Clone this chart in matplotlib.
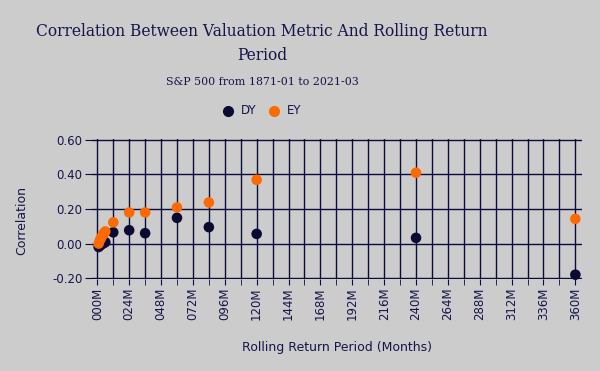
import matplotlib
matplotlib.use('Agg')
import matplotlib.pyplot as plt
from matplotlib.ticker import MultipleLocator, FuncFormatter

# rolling return period (months) and correlation of each valuation metric
months = [1, 2, 3, 4, 5, 6, 12, 24, 36, 60, 84, 120, 240, 360]
dy_corr = [-0.02, -0.012, -0.005, 0.0, 0.004, 0.008, 0.065, 0.077, 0.06, 0.149, 0.095, 0.056, 0.033, -0.18]
ey_corr = [0.0, 0.02, 0.035, 0.05, 0.06, 0.07, 0.123, 0.18, 0.18, 0.209, 0.238, 0.369, 0.41, 0.143]

bg = '#cccccc'
navy = '#0c0c3c'
text_col = '#15154a'
dy_col = '#0a0a33'
ey_col = '#ff6a00'

fig = plt.figure(figsize=(6, 3.71), dpi=100, facecolor=bg)
ax = fig.add_axes([92 / 600, 1 - 279 / 371, 490 / 600, 140 / 371])
ax.set_facecolor(bg)

ax.scatter(months, dy_corr, s=58, color=dy_col, edgecolors='none', zorder=3, clip_on=False)
ax.scatter(months, ey_corr, s=58, color=ey_col, edgecolors='none', zorder=3, clip_on=False)

ax.set_xlim(-4, 365)
ax.set_ylim(-0.205, 0.605)
ax.xaxis.set_major_locator(MultipleLocator(24))
ax.xaxis.set_minor_locator(MultipleLocator(12))
ax.xaxis.set_major_formatter(FuncFormatter(lambda v, p: f'{int(round(v)):03d}M'))
ax.yaxis.set_major_locator(MultipleLocator(0.2))
ax.yaxis.set_major_formatter(FuncFormatter(lambda v, p: f'{v:.2f}'))

ax.grid(True, which='both', axis='x', color=navy, linewidth=1)
ax.grid(True, which='major', axis='y', color=navy, linewidth=1)
ax.set_axisbelow(True)
for s in ax.spines.values():
    s.set_visible(False)

ax.tick_params(axis='x', which='both', direction='out', length=4, color=navy,
               labelcolor=text_col, labelsize=8.5, labelrotation=90, pad=2)
ax.tick_params(axis='y', direction='out', length=5, color=navy,
               labelcolor=text_col, labelsize=8.5, pad=2)

ax.set_xlabel('Rolling Return Period (Months)', color=text_col, fontsize=9)
ax.xaxis.set_label_coords(0.5, -0.44)
ax.set_ylabel('Correlation', color=text_col, fontsize=9)
ax.yaxis.set_label_coords(-0.13, 0.42)

cx = 262 / 600
fig.text(cx, 1 - 31 / 371, 'Correlation Between Valuation Metric And Rolling Return',
         ha='center', va='center', fontsize=11.2, family='DejaVu Serif', color=text_col)
fig.text(cx, 1 - 56 / 371, 'Period', ha='center', va='center', fontsize=11.2,
         family='DejaVu Serif', color=text_col)
fig.text(cx, 1 - 82 / 371, 'S&P 500 from 1871-01 to 2021-03', ha='center', va='center',
         fontsize=7.9, family='DejaVu Serif', color=text_col)

# legend
ly = 1 - 111 / 371
fig.add_artist(plt.Line2D([228 / 600], [ly], marker='o', markersize=7, color=dy_col,
                          linestyle='none', transform=fig.transFigure))
fig.text(241 / 600, ly, 'DY', ha='left', va='center', fontsize=8.5, color=text_col)
fig.add_artist(plt.Line2D([274 / 600], [ly], marker='o', markersize=7, color=ey_col,
                          linestyle='none', transform=fig.transFigure))
fig.text(287 / 600, ly, 'EY', ha='left', va='center', fontsize=8.5, color=text_col)

plt.savefig('out.png', dpi=100, facecolor=bg)
